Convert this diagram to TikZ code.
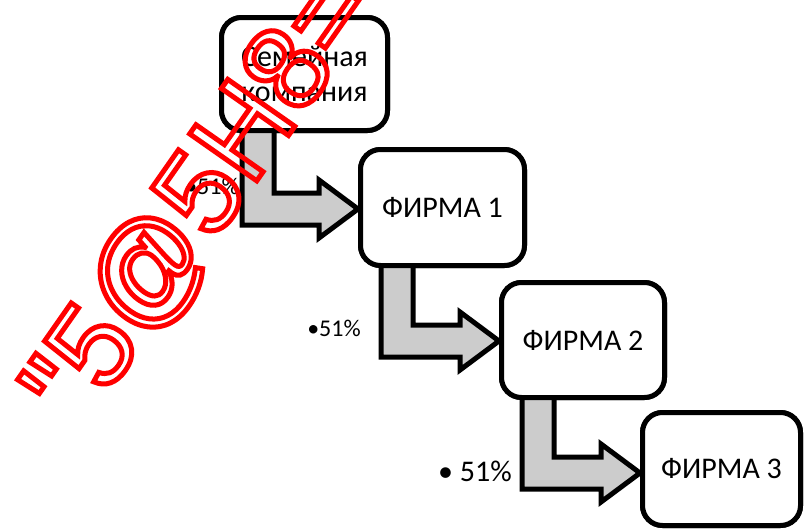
\documentclass[tikz,border=0pt]{standalone}
\usepackage{fontspec}
\setmainfont{Carlito}
\newfontfamily\stampfont{Liberation Sans}
\usetikzlibrary{calc}

% stroke-only (outlined) text via PDF text rendering mode
\newcommand\outlinetext[1]{\special{pdf:code 1 Tr 5 w}#1\special{pdf:code 0 Tr}}

\tikzset{
  firm/.style={draw, line width=5pt, rounded corners=20pt, fill=white,
    inner sep=0pt, align=center, font=\fontsize{30}{35}\selectfont},
  bent/.style={draw, line width=5pt, fill=gray!40, line join=miter},
  share/.style={inner sep=0pt, anchor=center},
  stamp/.style={inner sep=0pt, anchor=base, rotate=55, text=red,
    font=\stampfont\fontsize{119}{119}\selectfont}
}

% bent arrow from the bottom of box #1 into the left side of box #2,
% tip shifted down by #3
\newcommand\holding[3]{%
  \draw[bent] let \p1=(#1.south west), \p2=($(#2.west)+(0,#3)$) in
    (\x1+23pt,\y1+6pt) -- (\x1+23pt,\y2-16pt) -- (\x2-39pt,\y2-16pt)
    -- (\x2-39pt,\y2-29pt) -- (\x2,\y2) -- (\x2-39pt,\y2+29pt)
    -- (\x2-39pt,\y2+16pt) -- (\x1+55pt,\y2+16pt) -- (\x1+55pt,\y1+6pt)
    -- cycle;}

\begin{document}
\begin{tikzpicture}[x=1pt,y=-1pt]
  \useasboundingbox (0,0) rectangle (805,530);

  % companies (placed first, drawn over the arrows below)
  \path
    (304.5,74)  node[firm, minimum width=166pt, minimum height=113pt] (fam) {Семейная\\компания}
    (442.5,207.5) node[firm, minimum width=164pt, minimum height=116pt] (f1) {ФИРМА 1}
    (583,340)   node[firm, minimum width=163pt, minimum height=115pt] (f2) {ФИРМА 2}
    (721.5,469) node[firm, minimum width=158pt, minimum height=113pt] (f3) {ФИРМА 3};

  % ownership arrows
  \holding{fam}{f1}{1.5}
  \holding{f1}{f2}{1}
  \holding{f2}{f3}{4}

  % redraw the boxes on top of the arrow stems
  \path
    (304.5,74)  node[firm, minimum width=166pt, minimum height=113pt] {Семейная\\компания}
    (442.5,207.5) node[firm, minimum width=164pt, minimum height=116pt] {ФИРМА 1}
    (583,340)   node[firm, minimum width=163pt, minimum height=115pt] {ФИРМА 2}
    (721.5,469) node[firm, minimum width=158pt, minimum height=113pt] {ФИРМА 3};

  % share labels
  \node[share, font=\fontsize{24}{28}\selectfont] (s1) at (212,186) {•51\%};
  \node[share, font=\fontsize{24}{28}\selectfont] (s2) at (334,328) {•51\%};
  \node[share, font=\fontsize{30}{34}\selectfont] (s3) at (475,471) {• 51\%};

  % outlined stamp across the picture
  \node[stamp] (mark) at (230,219) {\outlinetext{"5@5H8=}};
\end{tikzpicture}
\end{document}
